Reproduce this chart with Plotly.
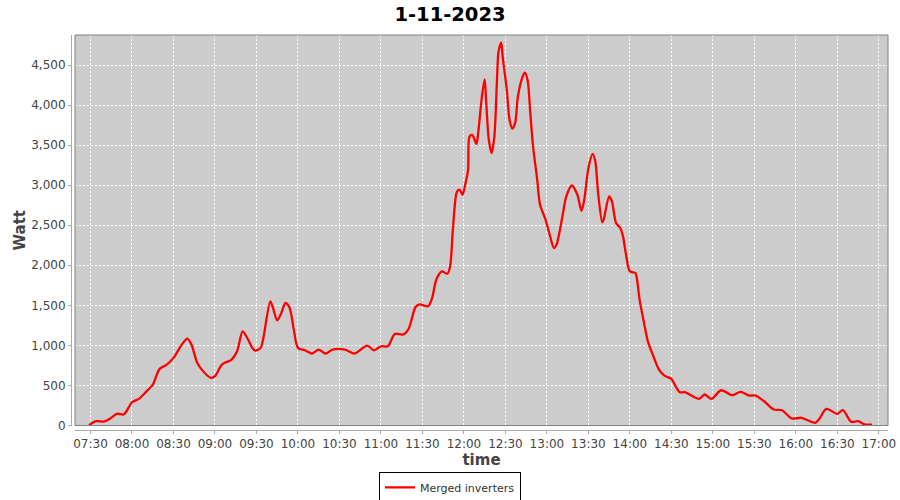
import plotly.graph_objects as go

DAY = "2023-11-01"
times = [
    "07:29", "07:34", "07:40", "07:44", "07:49", "07:54", "07:56", "08:00", "08:05", "08:11",
    "08:15", "08:20", "08:25", "08:30", "08:36", "08:40", "08:43", "08:47", "08:50", "08:57",
    "09:00", "09:05", "09:12", "09:16", "09:20", "09:24", "09:27", "09:29", "09:33", "09:35",
    "09:40", "09:42", "09:45", "09:48", "09:51", "09:54", "09:57", "10:00", "10:05", "10:10",
    "10:15", "10:20", "10:25", "10:34", "10:41", "10:50", "10:55", "11:00", "11:05", "11:10",
    "11:16", "11:20", "11:25", "11:28", "11:34", "11:37", "11:40", "11:44", "11:48", "11:50",
    "11:52", "11:55", "11:57", "11:59", "12:01", "12:03", "12:04", "12:06", "12:09", "12:10",
    "12:13", "12:15", "12:16", "12:18", "12:20", "12:22", "12:24", "12:25", "12:27", "12:28",
    "12:31", "12:33", "12:35", "12:37", "12:39", "12:42", "12:44", "12:46", "12:48", "12:50",
    "12:53", "12:55", "12:59", "13:02", "13:05", "13:07", "13:11", "13:14", "13:18", "13:22",
    "13:25", "13:27", "13:30", "13:33", "13:35", "13:37", "13:40", "13:41", "13:45", "13:47",
    "13:50", "13:53", "13:55", "13:57", "14:00", "14:04", "14:05", "14:07", "14:10", "14:13",
    "14:17", "14:21", "14:25", "14:30", "14:33", "14:36", "14:40", "14:50", "14:54", "14:59",
    "15:06", "15:14", "15:20", "15:26", "15:31", "15:37", "15:44", "15:50", "15:57", "16:04",
    "16:14", "16:17", "16:22", "16:30", "16:34", "16:40", "16:45", "16:50", "16:55",
]
watts = [
    5, 54, 50, 83, 146, 137, 178, 290, 333, 436,
    507, 707, 757, 844, 1010, 1085, 1010, 789, 707, 595,
    615, 761, 823, 927, 1176, 1072, 969, 935, 969, 1094,
    1550, 1467, 1313, 1405, 1530, 1467, 1197, 969, 939, 898,
    948, 898, 948, 948, 898, 998, 939, 989, 989, 1143,
    1135, 1205, 1480, 1513, 1488, 1592, 1820, 1924, 1895, 1986,
    2444, 2921, 2943, 2880, 3015, 3192, 3607, 3628, 3516, 3607,
    4106, 4322, 4065, 3566, 3400, 3607, 4356, 4667, 4779, 4605,
    4190, 3815, 3707, 3774, 4106, 4335, 4405, 4314, 3899, 3483,
    3067, 2760, 2569, 2382, 2216, 2260, 2590, 2859, 2996, 2880,
    2681, 2818, 3213, 3392, 3296, 2901, 2535, 2569, 2859, 2797,
    2527, 2465, 2361, 2153, 1924, 1904, 1842, 1571, 1300, 1051,
    864, 698, 623, 582, 490, 415, 415, 333, 387, 333,
    440, 378, 420, 374, 374, 303, 200, 191, 87, 96,
    34, 83, 208, 146, 191, 46, 54, 12, 12,
]
series_name = "Merged inverters"
chart_title = "1-11-2023"
x_title = "time"
y_title = "Watt"
x_range = ["07:18:48", "17:06:36"]
y_range = [0, 4875]

xs = [f"{DAY} {t}" for t in times]

fig = go.Figure()
fig.add_trace(go.Scatter(
    x=xs, y=watts, mode="lines", name=series_name,
    line=dict(color="#ff0000", width=2.3, shape="spline", smoothing=0.8),
))

font_family = "DejaVu Sans"
fig.update_layout(
    width=900, height=500,
    margin=dict(l=71, r=12, t=35, b=70, autoexpand=False),
    paper_bgcolor="white",
    plot_bgcolor="#cccccc",
    font=dict(family=font_family, size=12, color="#444444"),
    title=dict(text=f"<b>{chart_title}</b>", x=0.5, xanchor="center",
               y=0.972, yanchor="middle", yref="container", font=dict(size=19.5, color="black")),
    showlegend=True,
    legend=dict(orientation="h", x=(450 - 71) / 817, xanchor="center", y=-0.145, yanchor="middle",
                bordercolor="black", borderwidth=1, bgcolor="white",
                font=dict(size=11, color="#333333"), itemwidth=30,
                tracegroupgap=0),
    xaxis=dict(
        domain=[4 / 817, 1], anchor="free", position=0, automargin=False,
        range=[f"{DAY} {x_range[0]}", f"{DAY} {x_range[1]}"],
        type="date", tick0=f"{DAY} 07:30", dtick=30 * 60 * 1000, tickformat="%H:%M",
        showgrid=True, gridcolor="white", griddash="2px,2px", gridwidth=1,
        showline=True, linecolor="#aaaaaa", linewidth=1,
        ticks="outside", ticklen=3, tickcolor="#aaaaaa",
        tickfont=dict(size=12, color="#444444"),
        title=dict(text=f"<b>{x_title}</b>", font=dict(size=15, color="#444444"), standoff=4),
        zeroline=False, fixedrange=True,
    ),
    yaxis=dict(
        domain=[4.5 / 395, 1], anchor="free", position=0, automargin=False,
        range=y_range, dtick=500, tickformat=",d",
        showgrid=True, gridcolor="white", griddash="2px,2px", gridwidth=1,
        showline=True, linecolor="#aaaaaa", linewidth=1,
        ticks="outside", ticklen=3, tickcolor="#aaaaaa",
        tickfont=dict(size=12, color="#444444"),
        title=dict(text=f"<b>{y_title}</b>", font=dict(size=15, color="#444444"), standoff=0),
        zeroline=False, fixedrange=True,
    ),
)
fig.add_shape(type="rect", xref="x domain", yref="y domain", x0=0, x1=1, y0=0, y1=1,
              line=dict(color="#808080", width=1), fillcolor="rgba(0,0,0,0)", layer="above")

fig.write_html("out.html", config={"displayModeBar": False},
               post_script="document.body.style.margin='0';")
